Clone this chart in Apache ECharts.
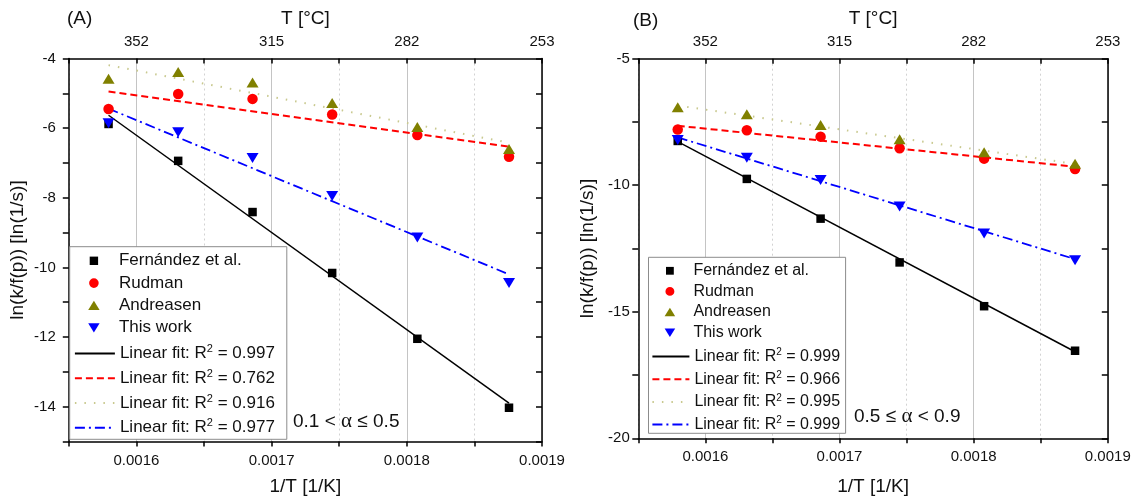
<!DOCTYPE html>
<html><head><meta charset="utf-8">
<script src="https://cdn.jsdelivr.net/npm/echarts@6/dist/echarts.min.js"></script>
<style>html,body{margin:0;padding:0;background:#fff}#c{width:1137px;height:503px}</style>
</head><body><div id="c"></div>
<script>
// ---- data ----
const invT = [0.0015794, 0.0016309, 0.0016859, 0.0017448, 0.0018078, 0.0018756]; // 1/T [1/K]
const xMajorLabels = ['0.0016', '0.0017', '0.0018', '0.0019'];
const topTickLabels = ['352', '315', '282', '253'];
const seriesNames = ['Fernández et al.', 'Rudman', 'Andreasen', 'This work'];

// Panel A (0.1 < alpha <= 0.5)
const fernA = [-5.88, -6.94, -8.41, -10.16, -12.05, -14.03];
const rudA  = [-5.45, -5.02, -5.16, -5.61, -6.20, -6.82];
const andA  = [-4.58, -4.39, -4.69, -5.28, -5.97, -6.60];
const thisA = [-5.86, -6.12, -6.86, -7.95, -9.14, -10.45];
const fitFernA = [-5.63, -13.90];
const fitRudA  = [-4.95, -6.53];
const fitAndA  = [-4.19, -6.42];
const fitThisA = [-5.44, -10.20];
const r2A = ['0.997', '0.762', '0.916', '0.977'];

// Panel B (0.5 <= alpha < 0.9)
const fernB = [-8.25, -9.75, -11.32, -13.05, -14.78, -16.54];
const rudB  = [-7.80, -7.83, -8.08, -8.54, -8.95, -9.36];
const andB  = [-6.92, -7.20, -7.62, -8.18, -8.70, -9.15];
const thisB = [-8.21, -8.91, -9.79, -10.84, -11.91, -12.96];
const fitFernB = [-8.28, -16.58];
const fitRudB  = [-7.65, -9.27];
const fitAndB  = [-6.85, -9.16];
const fitThisB = [-8.11, -12.92];
const r2B = ['0.999', '0.966', '0.995', '0.999'];

const yTickLabelsA = ['-4', '-6', '-8', '-10', '-12', '-14'];
const yTickLabelsB = ['-5', '-10', '-15', '-20'];

// ---- styling ----
const FONT = "'Liberation Sans', Arial, sans-serif";
const TXT = '#111';
const colors = ['#000000', '#ff0000', '#808000', '#0000ff'];
const symbols = ['rect', 'circle', 'triangle', 'path://M0,0L10,0L5,9Z'];
const symSizes = [8.5, 10.5, [12, 10], [12, 10]];
const legendIcons = [
  'path://M0,0M14,14M2.8,2.8L11.2,2.8L11.2,11.2L2.8,11.2Z',
  'path://M0,0M14,14M2.2,7A4.8,4.8,0,1,1,11.8,7A4.8,4.8,0,1,1,2.2,7Z',
  'path://M0,0M14,14M1.3,11.5L12.7,11.5L7,2.3Z',
  'path://M0,0M14,14M1.3,2.5L12.7,2.5L7,11.7Z'
];
const fitStyles = [
  {color: '#000000', width: 1.5, type: 'solid'},
  {color: '#ff0000', width: 2, type: [7, 4]},
  {color: '#c9c98f', width: 2, type: [1.5, 8]},
  {color: '#0000ff', width: 1.8, type: [10, 4, 2, 4]}
];

function isMajor(v) { return Math.abs(v * 1e4 - Math.round(v * 1e4)) < 1e-6; }
function majorIdx(v) { return Math.round(v * 1e4) - 16; }

const xAxes = [], yAxes = [], series = [], grids = [], legends = [], boxes = [];

function panel(g, cfg) {
  grids.push(cfg.grid);
  const axisLine = {show: true, onZero: false, lineStyle: {color: '#000', width: 1.5}};
  xAxes.push({
    type: 'value', gridIndex: g, position: 'bottom', min: 0.00155, max: 0.0019, interval: 0.00005,
    axisLine, axisTick: {show: true, inside: false, length: 5, lineStyle: {color: '#000', width: 1.5}},
    axisLabel: {margin: cfg.bMargin, fontSize: 15, color: TXT, fontFamily: FONT, showMinLabel: true, showMaxLabel: true,
      formatter: v => isMajor(v) && xMajorLabels[majorIdx(v)] ? xMajorLabels[majorIdx(v)] : ''},
    splitLine: {show: true, lineStyle: {color: ['rgba(0,0,0,0)', '#c4c4c4'], width: 1, type: 'solid'}},
    name: '1/T [1/K]', nameLocation: 'middle', nameGap: cfg.bNameGap,
    nameTextStyle: {fontSize: 19, color: TXT, fontFamily: FONT}
  });
  xAxes.push({
    type: 'value', gridIndex: g, position: 'top', min: 0.00155, max: 0.0019, interval: 0.00005,
    axisLine, axisTick: {show: true, inside: true, length: 5, lineStyle: {color: '#000', width: 1.5}},
    axisLabel: {margin: 9, fontSize: 15, color: TXT, fontFamily: FONT, showMinLabel: true, showMaxLabel: true,
      formatter: v => isMajor(v) && topTickLabels[majorIdx(v)] ? topTickLabels[majorIdx(v)] : ''},
    splitLine: {show: true, lineStyle: {color: ['#d2d2d2', 'rgba(0,0,0,0)'], width: 1, type: [2, 3]}},
    name: 'T [°C]', nameLocation: 'middle', nameGap: 30,
    nameTextStyle: {fontSize: 19, color: TXT, fontFamily: FONT}
  });
  yAxes.push({
    type: 'value', gridIndex: g, position: 'left', min: cfg.ymin, max: cfg.ymax, interval: cfg.yint,
    axisLine, axisTick: {show: true, inside: false, length: 6, lineStyle: {color: '#000', width: 1.5}},
    axisLabel: {margin: cfg.lMargin, fontSize: 15, color: TXT, fontFamily: FONT, showMinLabel: true, showMaxLabel: true,
      formatter: v => cfg.yLabels.indexOf(String(v)) >= 0 ? String(v) : ''},
    splitLine: {show: false},
    name: 'ln(k/f(p)) [ln(1/s)]', nameLocation: 'middle', nameGap: cfg.yNameGap,
    nameTextStyle: {fontSize: 19, color: TXT, fontFamily: FONT}
  });
  yAxes.push({
    type: 'value', gridIndex: g, position: 'right', min: cfg.ymin, max: cfg.ymax, interval: cfg.yint,
    axisLine, axisTick: {show: true, inside: true, length: 6, lineStyle: {color: '#000', width: 1.5}},
    axisLabel: {show: false}, splitLine: {show: false}
  });
  cfg.points.forEach((arr, k) => {
    series.push({
      type: 'scatter', name: seriesNames[k], xAxisIndex: 2 * g, yAxisIndex: 2 * g,
      data: invT.map((x, i) => [x, arr[i]]), symbol: symbols[k], symbolSize: symSizes[k],
      itemStyle: {color: colors[k], opacity: 1}, z: 4, silent: true
    });
  });
  cfg.fits.forEach((f, k) => {
    series.push({
      type: 'line', name: cfg.fitNames[k], xAxisIndex: 2 * g, yAxisIndex: 2 * g,
      data: [[invT[0], f[0]], [invT[invT.length - 1], f[1]]], symbol: 'none', showSymbol: false,
      lineStyle: fitStyles[k], itemStyle: {color: fitStyles[k].color}, z: 3, silent: true
    });
  });
  const lg = cfg.lg;
  const textStyle = {color: TXT, fontFamily: FONT, fontSize: lg.fs,
    rich: {
      t: {fontSize: lg.fs, color: TXT, fontFamily: FONT},
      s: {fontSize: lg.ss, color: TXT, fontFamily: FONT, padding: [0, 0, lg.sp, 0]}
    }};
  const common = {orient: 'vertical', padding: 0, itemWidth: lg.iw, itemHeight: lg.ih,
    borderWidth: 0, backgroundColor: 'rgba(0,0,0,0)', selectedMode: false, z: 6, textStyle};
  // symbol icons are drawn centred in an ih-wide square inside the iw-wide slot
  legends.push(Object.assign({}, common, {
    left: lg.left + (lg.iw - lg.ih) / 2, top: lg.top1, itemGap: lg.gap1,
    data: seriesNames.map((n, k) => ({name: n, icon: legendIcons[k]})),
    formatter: name => '{t|' + name + '}'
  }));
  legends.push(Object.assign({}, common, {
    left: lg.left, top: lg.top2, itemGap: lg.gap2,
    data: cfg.fitNames.map(n => ({name: n, itemStyle: {color: 'rgba(0,0,0,0)', borderColor: 'rgba(0,0,0,0)', borderWidth: 0, opacity: 0}})),
    formatter: name => '{t|Linear fit: R}{s|2}{t| = ' + cfg.r2[cfg.fitNames.indexOf(name)] + '}'
  }));
  boxes.push({type: 'rect', z: 5, shape: cfg.box, style: {fill: '#fff', stroke: '#8c8c8c', lineWidth: 1}});
}

panel(0, {
  grid: {left: 68.8, top: 58.5, width: 473.2, height: 383},
  ymin: -15, ymax: -4, yint: 1, yLabels: yTickLabelsA,
  bMargin: 12, bNameGap: 35.5, lMargin: 13, yNameGap: 42,
  points: [fernA, rudA, andA, thisA],
  fits: [fitFernA, fitRudA, fitAndA, fitThisA],
  fitNames: ['fitA0', 'fitA1', 'fitA2', 'fitA3'], r2: r2A,
  box: {x: 69.7, y: 246.7, width: 217.1, height: 192.6},
  lg: {left: 73.9, top1: 252.3, gap1: 5.3, top2: 343.6, gap2: 6.2, iw: 40, ih: 14, fs: 17, ss: 11, sp: 9}
});
panel(1, {
  grid: {left: 638.3, top: 58.7, width: 469.5, height: 379.6},
  ymin: -20, ymax: -5, yint: 2.5, yLabels: yTickLabelsB,
  bMargin: 11, bNameGap: 38.9, lMargin: 8.5, yNameGap: 41,
  points: [fernB, rudB, andB, thisB],
  fits: [fitFernB, fitRudB, fitAndB, fitThisB],
  fitNames: ['fitB0', 'fitB1', 'fitB2', 'fitB3'], r2: r2B,
  box: {x: 648.5, y: 257.3, width: 197.1, height: 176},
  lg: {left: 651.4, top1: 262.8, gap1: 4.6, top2: 347.5, gap2: 5.7, iw: 37, ih: 13, fs: 16, ss: 10, sp: 8}
});

const chart = echarts.init(document.getElementById('c'), null, {renderer: 'canvas'});
chart.setOption({
  backgroundColor: '#fff',
  animation: false,
  textStyle: {fontFamily: FONT},
  grid: grids, xAxis: xAxes, yAxis: yAxes, series, legend: legends,
  graphic: boxes.concat([
    {type: 'text', left: 67, top: 9, style: {text: '(A)', fontSize: 19, fill: TXT, fontFamily: FONT}},
    {type: 'text', left: 633, top: 11, style: {text: '(B)', fontSize: 19, fill: TXT, fontFamily: FONT}},
    {type: 'text', left: 293, top: 411, z: 10, style: {text: '{n|0.1 < }{a|α}{n| ≤ 0.5}', fill: TXT,
      rich: {n: {fontSize: 19, fontFamily: FONT, fill: TXT}, a: {fontSize: 21, fontFamily: "'Liberation Serif', serif", fill: TXT}}}},
    {type: 'text', left: 854, top: 406, z: 10, style: {text: '{n|0.5 ≤ }{a|α}{n| < 0.9}', fill: TXT,
      rich: {n: {fontSize: 19, fontFamily: FONT, fill: TXT}, a: {fontSize: 21, fontFamily: "'Liberation Serif', serif", fill: TXT}}}}
  ])
});
</script></body></html>
